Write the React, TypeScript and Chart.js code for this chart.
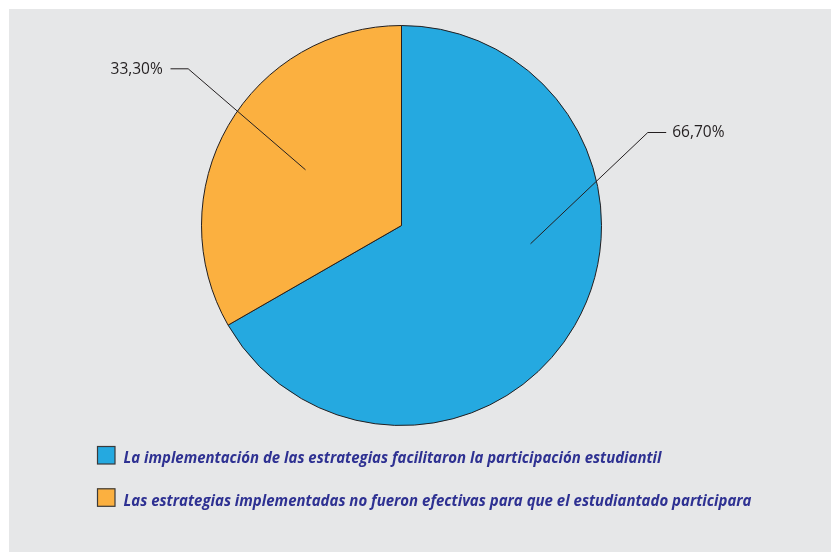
import React, { useEffect, useRef } from "react";
import { Chart, registerables } from "chart.js";

Chart.register(...registerables);

const categories = [
  "La implementación de las estrategias facilitaron la participación estudiantil",
  "Las estrategias implementadas no fueron efectivas para que el estudiantado participara",
];
const percentages = [66.7, 33.3];
const sliceColors = ["#25a9e0", "#fbb040"];

// leader-line geometry, offsets from pie centre (style only)
const leaderStyles = [
  { inner: [129, 18.3], elbow: [246.3, -93], end: [264.7, -93], text: [270.7, -88.7], align: "left" },
  { inner: [-96, -55.7], elbow: [-213.3, -156.7], end: [-231, -156.7], text: [-238.7, -151.7], align: "right" },
];
const legendTextWidths = [538, 628];

const decorPlugin = {
  id: "decor",
  beforeDraw(chart: any) {
    const ctx = chart.ctx;
    ctx.save();
    ctx.fillStyle = "#ffffff";
    ctx.fillRect(0, 0, chart.width, chart.height);
    ctx.fillStyle = "#e6e7e8";
    ctx.fillRect(9, 9, chart.width - 9, chart.height - 9);
    ctx.restore();
  },
  afterDraw(chart: any) {
    const ctx = chart.ctx;
    const meta = chart.getDatasetMeta(0);
    const ds = chart.data.datasets[0];
    ctx.save();
    meta.data.forEach((arc: any, i: number) => {
      const s = leaderStyles[i];
      const cx = arc.x;
      const cy = arc.y;
      ctx.strokeStyle = "#231f20";
      ctx.lineWidth = 1;
      ctx.beginPath();
      ctx.moveTo(cx + s.inner[0], cy + s.inner[1]);
      ctx.lineTo(cx + s.elbow[0], cy + s.elbow[1]);
      ctx.lineTo(cx + s.end[0], cy + s.end[1]);
      ctx.stroke();
      const v = ds.data[i] as number;
      const txt = v.toFixed(2).replace(".", ",") + "%";
      ctx.fillStyle = "#231f20";
      ctx.font = "15.5px 'Open Sans'";
      ctx.textAlign = s.align;
      ctx.textBaseline = "alphabetic";
      ctx.fillText(txt, cx + s.text[0], cy + s.text[1]);
    });
    // legend
    const labels = chart.data.labels as string[];
    labels.forEach((lab: string, i: number) => {
      const y = 446 + i * 42.3;
      ctx.fillStyle = (ds.backgroundColor as string[])[i];
      ctx.fillRect(97, y, 18, 18);
      ctx.strokeStyle = "#3a3a3a";
      ctx.lineWidth = 1.2;
      ctx.strokeRect(97.5, y + 0.5, 17.5, 17.5);
      ctx.font = "italic 700 16.5px 'Open Sans'";
      ctx.textAlign = "left";
      ctx.textBaseline = "alphabetic";
      ctx.fillStyle = "#2e3192";
      const w = ctx.measureText(lab).width;
      ctx.save();
      ctx.translate(123.5, y + 17.2);
      ctx.scale(legendTextWidths[i] / w, 1);
      ctx.fillText(lab, 0, 0);
      ctx.restore();
    });
    ctx.restore();
  },
};

export default function App() {
  const ref = useRef<HTMLCanvasElement>(null);
  useEffect(() => {
    if (!ref.current) return;
    const chart = new Chart(ref.current, {
      type: "pie",
      data: {
        labels: categories,
        datasets: [
          {
            data: percentages,
            backgroundColor: sliceColors,
            borderColor: "#231f20",
            borderWidth: 1,
            hoverOffset: 0,
          },
        ],
      },
      options: {
        animation: false,
        responsive: false,
        layout: { padding: { left: 201, right: 229, top: 25, bottom: 126 } },
        plugins: { legend: { display: false }, tooltip: { enabled: false } },
        events: [],
      },
      plugins: [decorPlugin],
    });
    return () => chart.destroy();
  }, []);
  return (
    <div style={{ position: "absolute", left: 0, top: 0, width: 831, height: 552 }}>
      <canvas ref={ref} width={831} height={552} style={{ display: "block" }} />
    </div>
  );
}
